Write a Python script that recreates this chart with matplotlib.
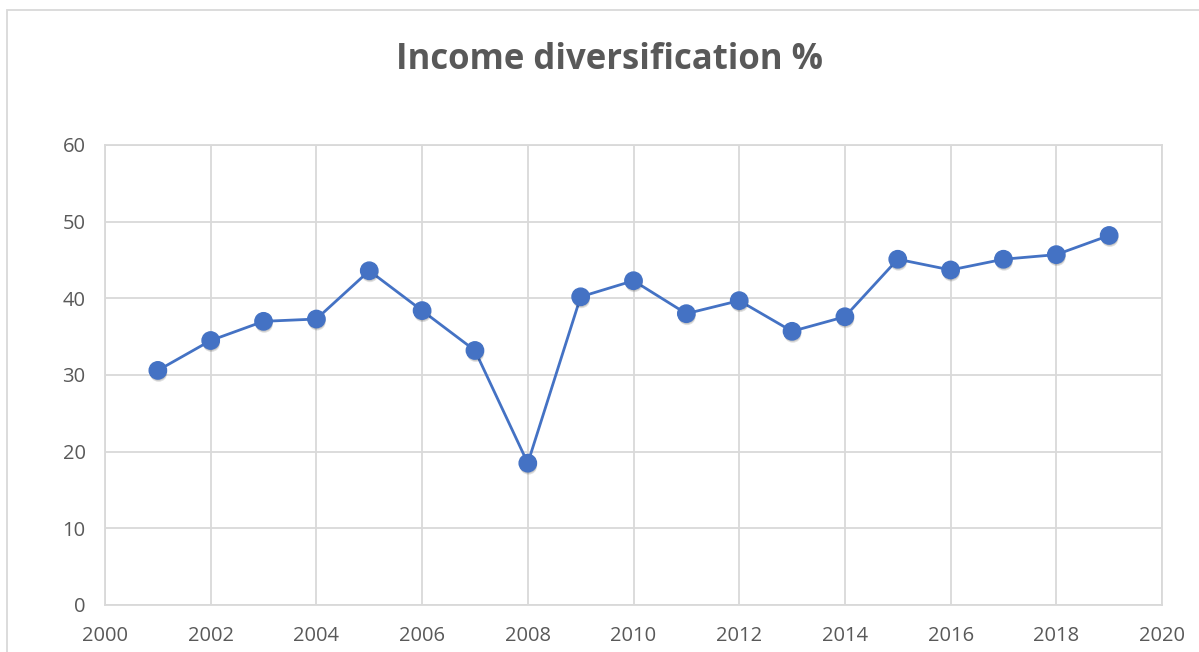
import matplotlib
matplotlib.use("Agg")
import matplotlib.pyplot as plt
import matplotlib.patheffects as pe
from matplotlib.patches import Rectangle

years = [2001, 2002, 2003, 2004, 2005, 2006, 2007, 2008, 2009, 2010,
         2011, 2012, 2013, 2014, 2015, 2016, 2017, 2018, 2019]
income_div = [30.6, 34.5, 37.0, 37.3, 43.6, 38.4, 33.2, 18.5, 40.2, 42.3,
              38.0, 39.7, 35.7, 37.6, 45.1, 43.7, 45.1, 45.7, 48.2]
x_ticks = [2000, 2002, 2004, 2006, 2008, 2010, 2012, 2014, 2016, 2018, 2020]
y_ticks = [0, 10, 20, 30, 40, 50, 60]

plt.rcParams['font.family'] = ['Open Sans', 'DejaVu Sans']
blue = '#4472C4'
grid_c = '#D9D9D9'
text_c = '#595959'

fig = plt.figure(figsize=(11.99, 6.52), dpi=100)
ax = fig.add_axes([105/1199, 47/652, 1057/1199, 460/652])

# chart frame, runs off the right and bottom edges
fig.patches.append(Rectangle((7/1199, -0.2), 1.2, 1.2 - 10/652,
                             transform=fig.transFigure, fill=False,
                             edgecolor=grid_c, linewidth=1.3, zorder=0))

ax.plot(years, income_div, color=blue, linewidth=2, zorder=3)
# soft drop shadow under each marker
ax.plot(years, income_div, linestyle='none', marker='o', markersize=12.5,
        markerfacecolor=blue, markeredgecolor=blue, zorder=4,
        path_effects=[pe.SimplePatchShadow(offset=(0.5, -2), shadow_rgbFace='#000000', alpha=0.12),
                      pe.SimplePatchShadow(offset=(0.3, -1.2), shadow_rgbFace='#000000', alpha=0.12),
                      pe.Normal()])

ax.set_xlim(2000, 2020)
ax.set_ylim(0, 60)
ax.set_xticks(x_ticks)
ax.set_yticks(y_ticks)
ax.grid(True, color=grid_c, linewidth=1.3)
ax.set_axisbelow(True)
for s in ax.spines.values():
    s.set_color(grid_c)
    s.set_linewidth(1.3)
ax.tick_params(length=0, labelsize=14.5, labelcolor=text_c)
ax.tick_params(axis='x', pad=15)
ax.tick_params(axis='y', pad=14)

fig.text(610/1199, 1 - 60/652, 'Income diversification %', ha='center', va='center',
         fontsize=25, fontweight='bold', color=text_c)

fig.savefig('out.png', dpi=100)
